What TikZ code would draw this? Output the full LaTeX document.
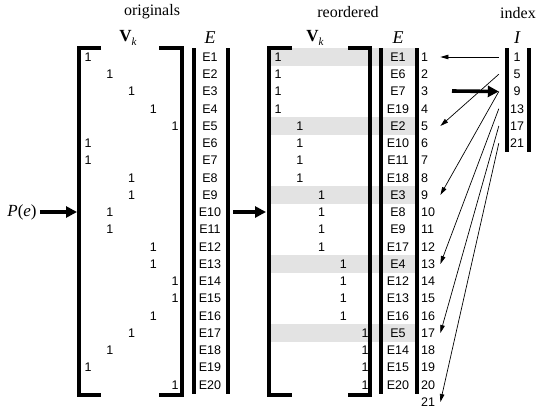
\documentclass[tikz,border=0pt]{standalone}
\usepackage{fontspec}
\setmainfont{Liberation Serif}
\newfontfamily\arialfam{Liberation Sans}
\usetikzlibrary{arrows.meta,calc}

\begin{document}
\begin{tikzpicture}[x=1pt,y=-1pt,
  cell/.style={font=\arialfam\fontsize{12.5}{13}\selectfont, inner sep=0pt},
  numcell/.style={font=\arialfam\fontsize{12.5}{13}\selectfont, inner sep=3pt,
    anchor=west, text width=16pt, align=left},
  idxcell/.style={font=\arialfam\fontsize{12.5}{13}\selectfont, inner sep=0pt,
    minimum width=36pt},
  heading/.style={font=\fontsize{16}{18}\selectfont, inner sep=0pt},
  symb/.style={font=\fontsize{18}{20}\selectfont\itshape, inner sep=0pt},
  bar/.style={line width=3.2pt},
  band/.style={fill=black!11},
  thick arrow/.style={line width=3.6pt, -{Triangle[length=11pt,width=11pt]}},
  thin arrow/.style={line width=0.7pt, -{Triangle[length=8pt,width=4.5pt]}}]

\useasboundingbox (0,0) rectangle (539,410);

% highlighted first rows of each group in the reordered matrix
\foreach \r in {1,5,9,13,17} {
  \pgfmathsetmacro\yy{57+(\r-1)*17.25}
  \fill[band] (267,\yy-8.6) rectangle (416,\yy+8.6);
}

% headings
\node[heading] (t1) at (152,12) {originals};
\node[heading] (t2) at (348,12) {reordered};
\node[heading] (t3) at (518,13) {index};
\node[heading, font=\fontsize{17}{18}\selectfont] (v1) at (128,38) {\textbf{V}\raisebox{-0.55ex}{\fontsize{11}{11}\selectfont\textit{k}}};
\node[heading, font=\fontsize{17}{18}\selectfont] (v2) at (315,38) {\textbf{V}\raisebox{-0.55ex}{\fontsize{11}{11}\selectfont\textit{k}}};
\node[symb] (E1h) at (210,38) {E};
\node[symb] (E2h) at (398,38) {E};
\node[symb] (Ih) at (517,38) {I};

% original matrix: brackets and E column
\draw[bar] (101,48) -- (79,48) -- (79,395) -- (101,395);
\draw[bar] (159,48) -- (182,48) -- (182,395) -- (159,395);
\draw[bar] (194,48) -- (194,394);
\draw[bar] (228,48) -- (228,394);

% reordered matrix: brackets and E column
\draw[bar] (292,48) -- (269,48) -- (269,395) -- (292,395);
\draw[bar] (348,48) -- (370,48) -- (370,395) -- (348,395);
\draw[bar] (381,48) -- (381,394);
\draw[bar] (417,48) -- (417,394);

% index column
\draw[bar] (507,48) -- (507,152);
\draw[bar] (529,48) -- (529,152);

% original matrix entries
\foreach \c [count=\r] in {1,2,3,4,5,1,1,3,3,2,2,4,4,5,5,4,3,2,1,5} {
  \pgfmathsetmacro\yy{57+(\r-1)*17.25}
  \pgfmathsetmacro\xx{88+(\c-1)*21.8}
  \node[cell] (a\r) at (\xx,\yy) {1};
  \node[cell] (e\r) at (210,\yy) {E\r};
}

% reordered matrix entries
\foreach \e [count=\r] in {1,6,7,19,2,10,11,18,3,8,9,17,4,12,13,16,5,14,15,20} {
  \pgfmathsetmacro\yy{57+(\r-1)*17.25}
  \pgfmathsetmacro\xx{278+int((\r-1)/4)*21.8}
  \node[cell] (b\r) at (\xx,\yy) {1};
  \node[cell] (f\r) at (398,\yy) {E\e};
}

% row numbers
\foreach \r in {1,...,21} {
  \pgfmathsetmacro\yy{57+(\r-1)*17.25}
  \node[numcell] (n\r) at (418,\yy) {\r};
}

% index entries
\foreach \k in {1,5,9,13,17,21} {
  \pgfmathsetmacro\yy{57+(\k-1)/4*17.25}
  \node[idxcell] (i\k) at (517,\yy) {\k};
}

% input arrow
\node[inner sep=0pt, font=\fontsize{17}{18}\selectfont] (pe) at (22,212) {\textit{P}(\textit{e})};
\coordinate (lb) at (77,212);
\draw[thick arrow] (pe.east) ++(3,0) -- (lb);

% arrow between the two matrices
\coordinate (m1) at (233,212);
\coordinate (m2) at (266,212);
\draw[thick arrow] (m1) -- (m2);

% arrow pointing at the index column
\coordinate (q) at (452,91);
\draw[thick arrow] (q) -- (i9.west);

% index links into the reordered rows
\draw[thin arrow] (i1.west) -- (n1.east);
\draw[thin arrow] (i5.west) -- (n5.east);
\draw[thin arrow] (i9.west) -- (n9.east);
\draw[thin arrow] (i13.west) -- (n13.east);
\draw[thin arrow] (i17.west) -- (n17.east);
\draw[thin arrow] (i21.west) -- (n21.east);
\end{tikzpicture}
\end{document}
